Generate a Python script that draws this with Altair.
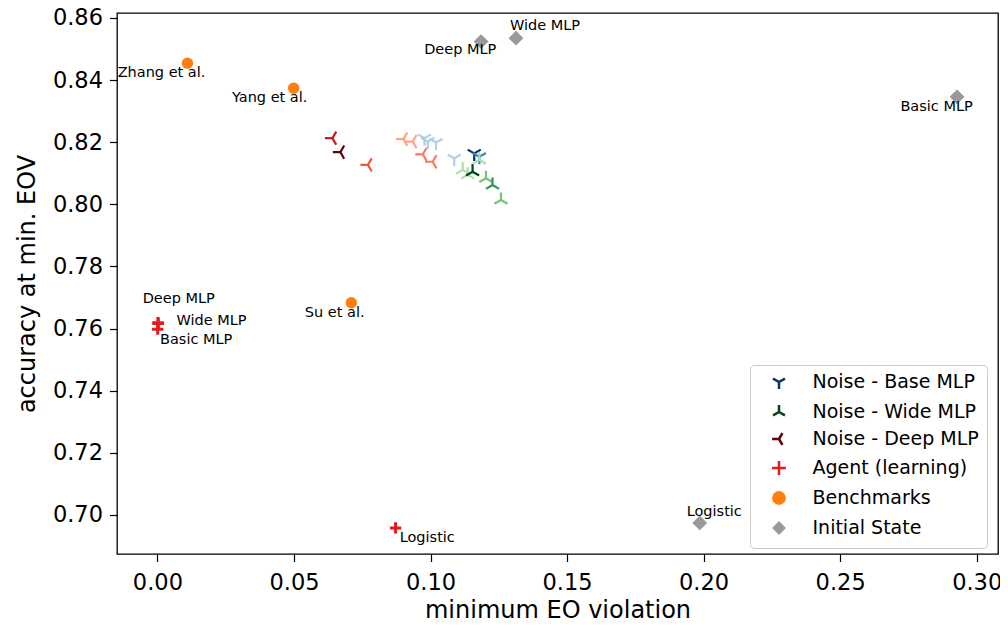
import altair as alt
import pandas as pd

# ---------------- data ----------------
SERIES = ["Noise - Base MLP", "Noise - Wide MLP", "Noise - Deep MLP",
          "Agent (learning)", "Benchmarks", "Initial State"]

# Noise runs (level = shade of the run in its colour map, 1 light .. 5 dark)
base_x = [0.0978, 0.0990, 0.1020, 0.1087, 0.1160, 0.1179]
base_y = [0.8213, 0.8202, 0.8199, 0.8148, 0.8164, 0.8153]
base_lv = [1, 1, 1, 1, 5, 3]

wide_x = [0.1118, 0.1136, 0.1154, 0.1179, 0.1203, 0.1227, 0.1258]
wide_y = [0.8111, 0.8095, 0.8105, 0.8143, 0.8084, 0.8062, 0.8014]
wide_lv = [1, 1, 5, 1, 2, 3, 2]

deep_x = [0.0641, 0.0670, 0.0771, 0.0901, 0.0935, 0.0972, 0.1008]
deep_y = [0.8213, 0.8168, 0.8127, 0.8210, 0.8202, 0.8161, 0.8137]
deep_lv = [4, 5, 3, 1, 1, 2, 2]

agent_names = ["Deep MLP", "Wide MLP", "Basic MLP", "Logistic"]
agent_x = [0.0002, 0.0003, 0.0001, 0.0872]
agent_y = [0.7619, 0.7616, 0.7598, 0.6958]

bench_names = ["Zhang et al.", "Yang et al.", "Su et al."]
bench_x = [0.0110, 0.0499, 0.0710]
bench_y = [0.8454, 0.8374, 0.7683]

init_names = ["Basic MLP", "Wide MLP", "Deep MLP", "Logistic"]
init_x = [0.2928, 0.1313, 0.1185, 0.1986]
init_y = [0.8346, 0.8535, 0.8524, 0.6974]

# annotation texts and where they sit (data coordinates)
label_text = ["Zhang et al.", "Yang et al.", "Su et al.",
              "Deep MLP", "Wide MLP", "Basic MLP", "Logistic",
              "Basic MLP", "Wide MLP", "Deep MLP", "Logistic"]
label_x = [0.0015, 0.0411, 0.0649, 0.0078, 0.0198, 0.0142, 0.0988,
           0.2853, 0.1419, 0.1109, 0.2039]
label_y = [0.8422, 0.8341, 0.7651, 0.7694, 0.7625, 0.7563, 0.6926,
           0.8313, 0.8575, 0.8497, 0.7009]

x_ticks = [0.00, 0.05, 0.10, 0.15, 0.20, 0.25, 0.30]
y_ticks = [0.70, 0.72, 0.74, 0.76, 0.78, 0.80, 0.82, 0.84, 0.86]

# ---------------- styles ----------------
BLUES = {1: "#abd0e6", 2: "#6aaed6", 3: "#3787c0", 4: "#105ba4", 5: "#08306b"}
GREENS = {1: "#aedea7", 2: "#74c476", 3: "#2f974e", 4: "#0b7734", 5: "#00441b"}
REDS = {1: "#fca487", 2: "#fa7a5b", 3: "#f4553b", 4: "#cd1a1e", 5: "#67000d"}
LEGEND_COLORS = ["#08306b", "#00441b", "#67000d", "#e41a1c", "#ff7f0e", "#999999"]
LEGEND_STROKES = ["#08306b", "#00441b", "#67000d", "#e41a1c", "transparent", "transparent"]

TRI_DOWN = "M0,0L0,1M0,0L-0.866,-0.5M0,0L0.866,-0.5"
TRI_UP = "M0,0L0,-1M0,0L-0.866,0.5M0,0L0.866,0.5"
TRI_LEFT = "M0,0L-1,0M0,0L0.5,-0.866M0,0L0.5,0.866"
PLUS = "M-1,0L1,0M0,-1L0,1"
SHAPES = [TRI_DOWN, TRI_UP, TRI_LEFT, PLUS, "circle", "diamond"]
SIZE_OF = dict(zip(SERIES, [230, 230, 230, 130, 130, 220]))
STROKE_OF = dict(zip(SERIES, [2.2, 2.2, 2.2, 3.0, 0, 0]))

rows = []
for xs, ys, lv, s, pal in [(deep_x, deep_y, deep_lv, SERIES[2], REDS),
                           (base_x, base_y, base_lv, SERIES[0], BLUES),
                           (wide_x, wide_y, wide_lv, SERIES[1], GREENS)]:
    for a, b, l in zip(xs, ys, lv):
        rows.append({"x": a, "y": b, "series": s, "col": pal[l]})
for a, b in zip(agent_x, agent_y):
    rows.append({"x": a, "y": b, "series": SERIES[3], "col": LEGEND_COLORS[3]})
for a, b in zip(bench_x, bench_y):
    rows.append({"x": a, "y": b, "series": SERIES[4], "col": LEGEND_COLORS[4]})
for a, b in zip(init_x, init_y):
    rows.append({"x": a, "y": b, "series": SERIES[5], "col": LEGEND_COLORS[5]})
df = pd.DataFrame(rows)
df["msize"] = df["series"].map(SIZE_OF)
df["mstroke"] = df["series"].map(STROKE_OF)
labels = pd.DataFrame({"text": label_text, "x": label_x, "y": label_y})

FONT = "DejaVu Sans"
xenc = alt.X("x:Q", scale=alt.Scale(domain=[-0.0148, 0.3078], nice=False, zero=False),
             axis=alt.Axis(values=x_ticks, format=".2f", title="minimum EO violation",
                           labelPadding=10, titlePadding=4))
yenc = alt.Y("y:Q", scale=alt.Scale(domain=[0.6874, 0.8616], nice=False, zero=False),
             axis=alt.Axis(values=y_ticks, format=".2f", title="accuracy at min. EOV",
                           labelPadding=7, titlePadding=13))

legend = alt.Legend(title=None, orient="none", legendX=633, legendY=352,
                    padding=7.5, strokeColor="#cccccc", cornerRadius=4,
                    fillColor="white", labelFont=FONT, labelFontSize=19,
                    labelColor="black", labelLimit=0, symbolSize=190,
                    symbolStrokeWidth=2.5, symbolOpacity=1, rowPadding=5,
                    symbolOffset=12, labelOffset=24)

shape_scale = alt.Scale(domain=SERIES, range=SHAPES)
color_scale = alt.Scale(domain=SERIES, range=LEGEND_COLORS)
stroke_scale = alt.Scale(domain=SERIES, range=LEGEND_STROKES)

legend_layer = alt.Chart(df).mark_point(filled=True, opacity=0).encode(
    x=xenc, y=yenc,
    color=alt.Color("series:N", scale=color_scale, legend=legend, sort=SERIES),
    stroke=alt.Stroke("series:N", scale=stroke_scale, legend=legend, sort=SERIES),
    shape=alt.Shape("series:N", scale=shape_scale, legend=legend, sort=SERIES),
)

point_layer = alt.Chart(df).mark_point(filled=True, opacity=1).encode(
    x=xenc, y=yenc,
    fill=alt.Fill("col:N", scale=None),
    stroke=alt.Stroke("col:N", scale=None),
    shape=alt.Shape("series:N", scale=shape_scale, legend=None),
    size=alt.Size("msize:Q", scale=None),
    strokeWidth=alt.StrokeWidth("mstroke:Q", scale=None),
)

text_layer = alt.Chart(labels).mark_text(
    font=FONT, fontSize=14.5, color="black", align="center", baseline="middle"
).encode(x=xenc, y=yenc, text="text:N")

chart = alt.layer(legend_layer, point_layer, text_layer).properties(
    width=881, height=541,
    padding={"left": 109, "top": 5, "right": 2, "bottom": 67},
    autosize=alt.AutoSizeParams(type="none"),
    background="white",
).configure_view(stroke="black", strokeWidth=1.3).configure_axis(
    grid=False, domain=False, ticks=True, tickColor="black", tickWidth=1.2,
    tickSize=7.5, labelFont=FONT, labelFontSize=22.5, labelColor="black",
    titleFont=FONT, titleFontSize=24, titleFontWeight="normal", titleColor="black",
)

chart.save("out.html", embed_options={"renderer": "svg", "actions": False})
